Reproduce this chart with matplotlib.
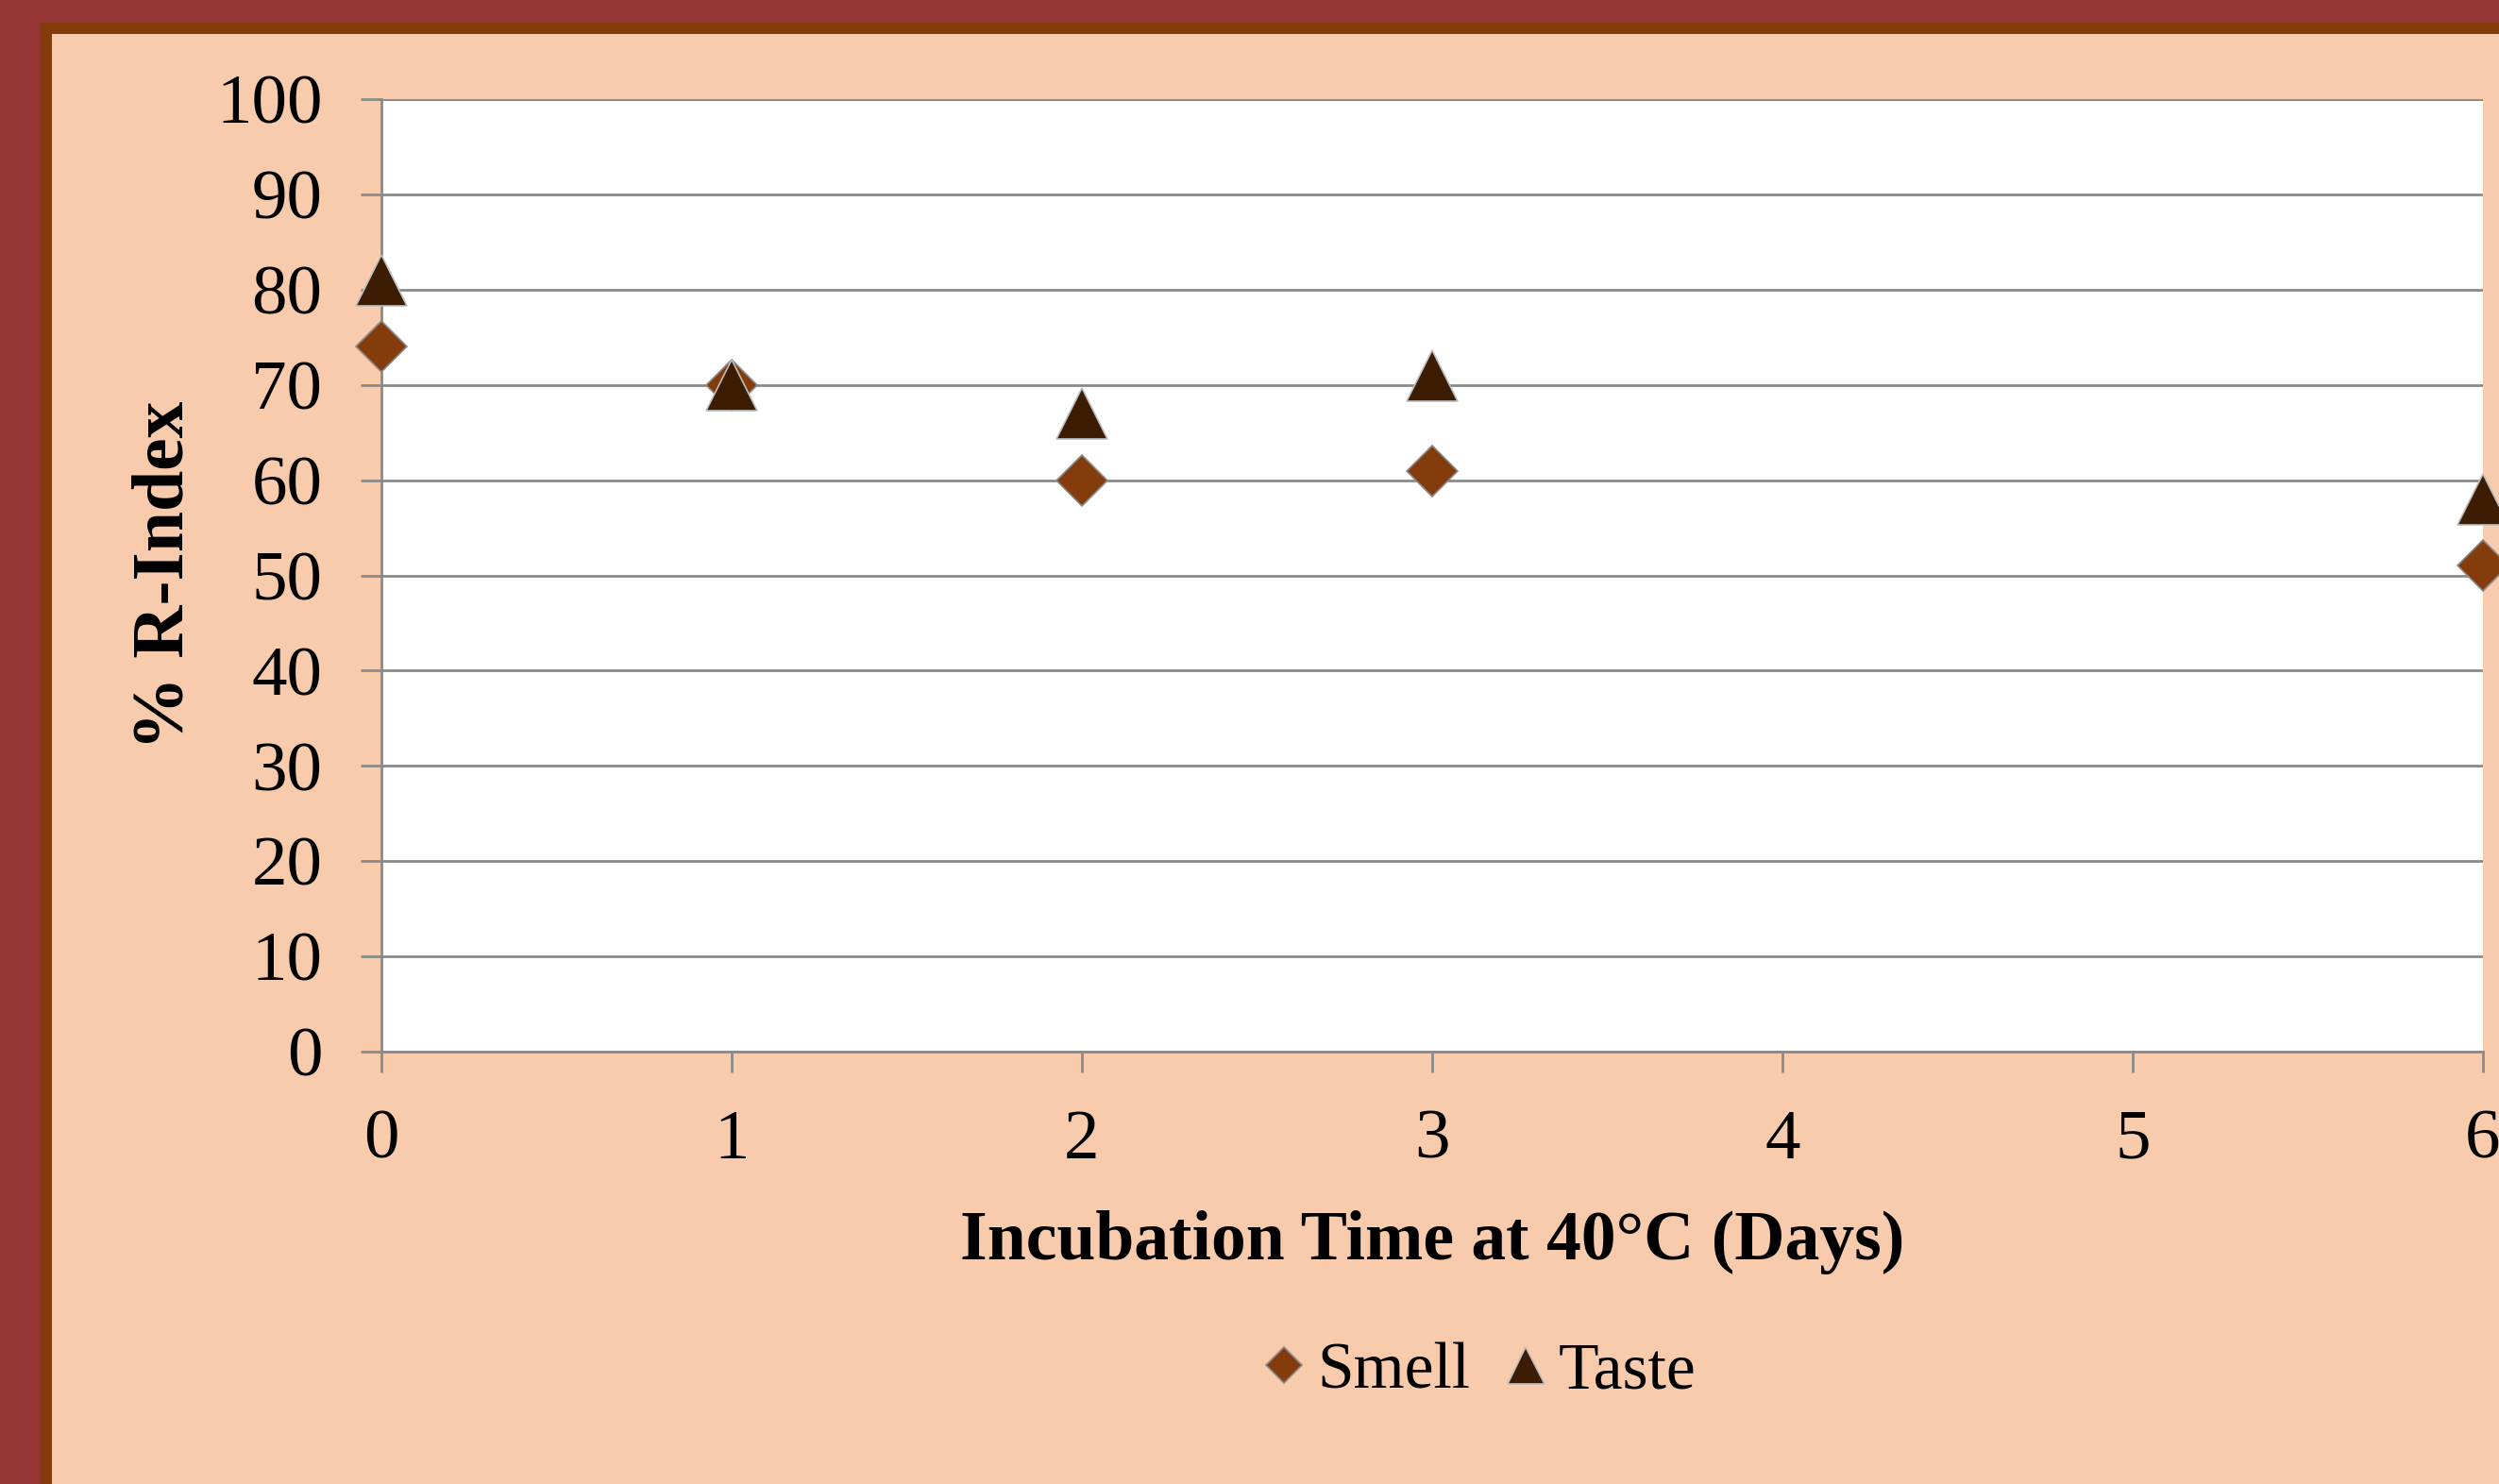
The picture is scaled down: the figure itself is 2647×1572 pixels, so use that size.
import matplotlib
matplotlib.use("Agg")
import matplotlib.pyplot as plt
from matplotlib.patches import Rectangle

# ---- data ----
days = [0, 1, 2, 3, 6]
smell = [74, 70, 60, 61, 51]
taste = [81, 70, 67, 71, 58]
series_names = ["Smell", "Taste"]
x_ticks = [0, 1, 2, 3, 4, 5, 6]
y_ticks = [0, 10, 20, 30, 40, 50, 60, 70, 80, 90, 100]
x_label = "Incubation Time at 40°C (Days)"
y_label = "% R-Index"

W, H = 2647, 1572
DPI = 100
plt.rcParams['font.family'] = ['Liberation Serif', 'DejaVu Serif']

fig = plt.figure(figsize=(W / DPI, H / DPI), dpi=DPI)
fig.patch.set_facecolor('#943634')

# brown inner frame and peach chart area
fig.add_artist(Rectangle((43 / W, -0.1), 2, 0.1 + (H - 24) / H,
                         transform=fig.transFigure, facecolor='#843C0C',
                         edgecolor='none', zorder=0))
fig.add_artist(Rectangle((55 / W, -0.1), 2, 0.1 + (H - 36) / H,
                         transform=fig.transFigure, facecolor='#F8CBAD',
                         edgecolor='none', zorder=0))

left, right = 404 / W, 2630 / W
bottom, top = (H - 1114) / H, (H - 105) / H
ax = fig.add_axes([left, bottom, right - left, top - bottom])
ax.set_facecolor('white')

grid_c = '#8A8A8A'
ax.set_xlim(0, 6)
ax.set_ylim(0, 100)
ax.set_xticks(x_ticks)
ax.set_yticks(y_ticks)
ax.yaxis.grid(True, color=grid_c, linewidth=2.0)
ax.set_axisbelow(True)
for s in ['top', 'right']:
    ax.spines[s].set_visible(False)
for s in ['left', 'bottom']:
    ax.spines[s].set_color(grid_c)
    ax.spines[s].set_linewidth(2.0)
ax.axhline(100, color=grid_c, linewidth=2.0, zorder=1)

ax.tick_params(axis='both', direction='out', length=16, width=2.0,
               color=grid_c, labelsize=54, labelcolor='black')
ax.tick_params(axis='y', pad=29)
ax.tick_params(axis='x', pad=28)

ax.plot(days, smell, linestyle='none', marker='D', markersize=27,
        markerfacecolor='#843C0C', markeredgecolor='#8a8a8a',
        markeredgewidth=1.2, clip_on=False, zorder=5, label=series_names[0])
ax.plot(days, taste, linestyle='none', marker='^', markersize=39,
        markerfacecolor='#3D1C04', markeredgecolor='#bdbdbd',
        markeredgewidth=1.2, clip_on=False, zorder=6, label=series_names[1])

ax.set_xlabel(x_label, fontsize=53, fontweight='bold', labelpad=28)
ax.set_ylabel(y_label, fontsize=56, fontweight='bold', labelpad=13)

leg = fig.legend(loc='center', bbox_to_anchor=(1568 / W, 1 - 1454 / H),
                 ncol=2, frameon=False, fontsize=50, markerscale=0.72,
                 handlelength=0.6, handletextpad=0.2, columnspacing=0.55,
                 borderpad=0)

fig.savefig('out.png', dpi=DPI, facecolor=fig.get_facecolor())
